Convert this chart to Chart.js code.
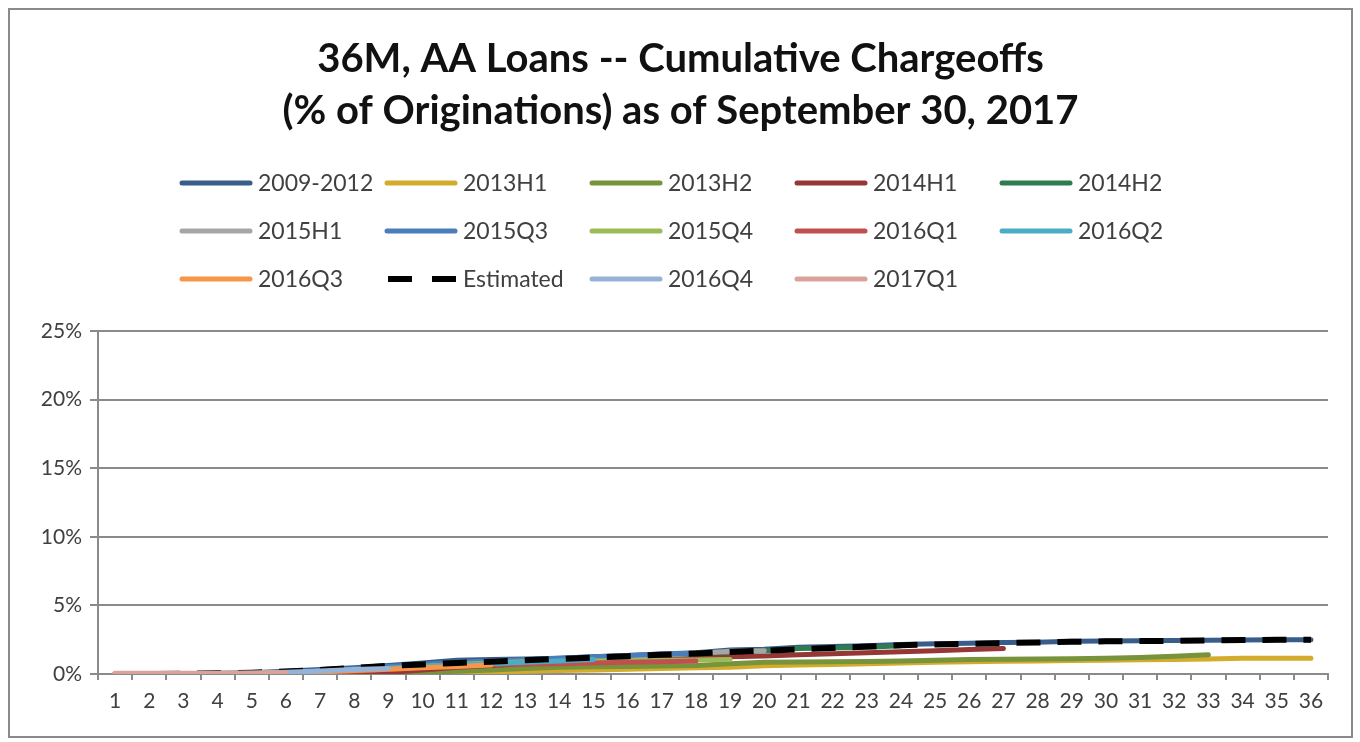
<!DOCTYPE html>
<html>
<head>
<meta charset="utf-8">
<script src="https://cdn.jsdelivr.net/npm/chart.js@4.4.0/dist/chart.umd.min.js"></script>
<style>
  html, body { margin: 0; padding: 0; background: #fff; }
  #frame {
    position: absolute; left: 8px; top: 8px;
    width: 1341px; height: 726px;
    border: 2px solid #8a8a8a; background: #fff;
  }
  #chart { display: block; }
</style>
</head>
<body>
<div id="frame"><canvas id="chart" width="1341" height="726"></canvas></div>
<script>
// months on book
var months = [];
for (var m = 1; m <= 36; m++) months.push(String(m));

var seriesNames = ['2009-2012', '2013H1', '2013H2', '2014H1', '2014H2',
                   '2015H1', '2015Q3', '2015Q4', '2016Q1', '2016Q2',
                   '2016Q3', 'Estimated', '2016Q4', '2017Q1'];

var seriesColors = ['#385d8a', '#d4ac2c', '#77933c', '#953735', '#2e7d50',
                    '#a6a6a6', '#4a7ebb', '#9bbb59', '#c0504d', '#4bacc6',
                    '#f79646', '#000000', '#95b3d7', '#d9a39b'];

// cumulative chargeoffs, % of originations
var v2009_2012 = [0, 0, 0.02, 0.05, 0.1, 0.2, 0.32, 0.45, 0.62, 0.8, 1.0, 1.05,
                  1.1, 1.15, 1.25, 1.35, 1.45, 1.55, 1.75, 1.8, 1.95, 2.0, 2.05, 2.15,
                  2.2, 2.25, 2.3, 2.32, 2.38, 2.4, 2.42, 2.44, 2.46, 2.48, 2.5, 2.5];
var v2013H1 = [0, 0, 0, 0, 0, 0, 0, 0.02, 0.03, 0.05, 0.1, 0.15,
               0.2, 0.25, 0.3, 0.35, 0.4, 0.45, 0.5, 0.6, 0.65, 0.7, 0.75, 0.8,
               0.85, 0.9, 0.93, 0.95, 0.98, 1.0, 1.03, 1.06, 1.1, 1.15, 1.15, 1.15];
var v2013H2 = [0, 0, 0, 0, 0, 0, 0, 0.02, 0.05, 0.1, 0.2, 0.3,
               0.4, 0.5, 0.52, 0.55, 0.58, 0.62, 0.75, 0.85, 0.87, 0.9, 0.92, 0.95,
               1.0, 1.05, 1.08, 1.1, 1.12, 1.15, 1.2, 1.3, 1.4];
var v2014H1 = [0, 0, 0, 0, 0, 0, 0.02, 0.05, 0.1, 0.3, 0.5, 0.62,
               0.75, 0.82, 0.9, 0.98, 1.05, 1.15, 1.25, 1.32, 1.4, 1.48, 1.55, 1.62,
               1.7, 1.78, 1.85];
var v2014H2 = [0, 0, 0, 0.02, 0.05, 0.1, 0.2, 0.35, 0.5, 0.65, 0.8, 0.9,
               1.0, 1.1, 1.2, 1.3, 1.4, 1.5, 1.6, 1.7, 1.85, 1.9, 1.95, 2.05];
var v2015H1 = [0, 0, 0, 0.02, 0.05, 0.1, 0.2, 0.35, 0.5, 0.65, 0.8, 0.9,
               1.0, 1.1, 1.2, 1.3, 1.4, 1.5, 1.65, 1.7];
var v2015Q3 = [0, 0, 0, 0.02, 0.05, 0.1, 0.22, 0.38, 0.55, 0.7, 0.85, 0.95,
               1.05, 1.15, 1.25, 1.35, 1.45, 1.5];
var v2015Q4 = [0, 0, 0, 0, 0.02, 0.05, 0.12, 0.25, 0.4, 0.55, 0.7, 0.8,
               0.9, 0.92, 0.95, 0.98, 1.0, 1.02, 1.05];
var v2016Q1 = [0, 0, 0, 0, 0.02, 0.05, 0.1, 0.2, 0.35, 0.5, 0.65, 0.7,
               0.72, 0.75, 0.8, 0.85, 0.9, 0.95];
var v2016Q2 = [0, 0, 0, 0.02, 0.05, 0.1, 0.2, 0.3, 0.42, 0.55, 0.65, 0.75,
               0.85, 0.95, 1.05];
var v2016Q3 = [0, 0, 0, 0.02, 0.05, 0.1, 0.15, 0.25, 0.35, 0.45, 0.55, 0.65];
var vEstimated = [0, 0, 0.02, 0.05, 0.1, 0.18, 0.3, 0.45, 0.6, 0.7, 0.8, 0.9,
                  1.0, 1.1, 1.2, 1.3, 1.4, 1.5, 1.6, 1.7, 1.8, 1.9, 2.0, 2.1,
                  2.15, 2.2, 2.25, 2.3, 2.35, 2.38, 2.4, 2.42, 2.45, 2.47, 2.49, 2.5];
var v2016Q4 = [0, 0, 0, 0.02, 0.05, 0.12, 0.22, 0.32, 0.4];
var v2017Q1 = [0.05, 0.05, 0.05, 0.06, 0.08, 0.1];

var seriesValues = [v2009_2012, v2013H1, v2013H2, v2014H1, v2014H2,
                    v2015H1, v2015Q3, v2015Q4, v2016Q1, v2016Q2,
                    v2016Q3, vEstimated, v2016Q4, v2017Q1];

var yTicks = [0, 5, 10, 15, 20, 25];

var FONT = 'Lato, "Open Sans", sans-serif';

var datasets = seriesNames.map(function (name, i) {
  var isEst = name === 'Estimated';
  return {
    label: name,
    data: seriesValues[i],
    borderColor: seriesColors[i],
    backgroundColor: seriesColors[i],
    borderWidth: isEst ? 6 : 5,
    borderDash: isEst ? [24, 17] : [],
    borderCapStyle: isEst ? 'butt' : 'round',
    pointRadius: 0,
    tension: 0,
    fill: false,
    // later series sit on top, like the spreadsheet
    order: seriesNames.length - i
  };
});

// grid legend, 5 columns x 3 rows
var gridLegend = {
  id: 'gridLegend',
  afterDraw: function (chart) {
    var ctx = chart.ctx;
    var colX = [170, 375, 580, 785, 990];
    var rowY = [173, 221, 269];
    ctx.save();
    ctx.font = '23px ' + FONT;
    ctx.textBaseline = 'middle';
    ctx.fillStyle = '#404040';
    chart.data.datasets.forEach(function (ds, i) {
      var x = colX[i % 5], y = rowY[Math.floor(i / 5)];
      ctx.beginPath();
      ctx.lineWidth = 5;
      ctx.strokeStyle = ds.borderColor;
      if (ds.label === 'Estimated') {
        ctx.lineCap = 'butt';
        ctx.lineWidth = 6;
        ctx.setLineDash([24, 20]);
        ctx.moveTo(x + 3, y);
        ctx.lineTo(x + 71, y);
      } else {
        ctx.lineCap = 'round';
        ctx.setLineDash([]);
        ctx.moveTo(x + 2, y);
        ctx.lineTo(x + 70, y);
      }
      ctx.stroke();
      ctx.setLineDash([]);
      ctx.fillText(ds.label, x + 78, y + 1);
    });
    ctx.restore();
  }
};

var chart = new Chart(document.getElementById('chart'), {
  type: 'line',
  data: { labels: months, datasets: datasets },
  plugins: [gridLegend],
  options: {
    responsive: false,
    animation: false,
    layout: { padding: { left: 23, right: 23, top: 0, bottom: 0 } },
    plugins: {
      legend: { display: false },
      tooltip: { enabled: false },
      title: {
        display: true,
        text: ['36M, AA Loans -- Cumulative Chargeoffs',
               '(% of Originations) as of September 30, 2017'],
        color: '#111',
        font: { family: FONT, size: 40, weight: 'bold', lineHeight: 1.3 },
        padding: { top: 23, bottom: 194 }
      }
    },
    scales: {
      x: {
        offset: true,
        grid: { offset: true, drawOnChartArea: false, tickLength: 6, color: '#8a8a8a', lineWidth: 2 },
        border: { color: '#8a8a8a', width: 2 },
        ticks: { color: '#404040', font: { family: FONT, size: 21 }, padding: 9, maxRotation: 0, autoSkip: false },
        afterFit: function (s) { s.height = 62; }
      },
      y: {
        min: 0, max: 25,
        afterBuildTicks: function (s) { s.ticks = yTicks.map(function (v) { return { value: v }; }); },
        grid: { color: '#8a8a8a', lineWidth: 2, tickLength: 8 },
        border: { color: '#8a8a8a', width: 2 },
        ticks: { color: '#404040', font: { family: FONT, size: 21 }, padding: 8,
                 callback: function (v) { return v + '%'; } },
        afterFit: function (s) { s.width = 65; }
      }
    }
  }
});
</script>
</body>
</html>
